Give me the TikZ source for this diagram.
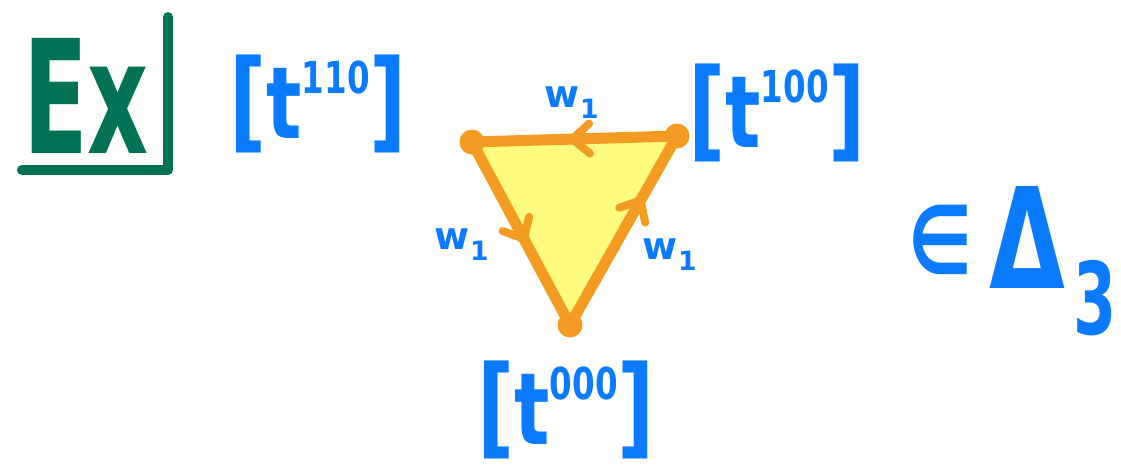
\documentclass[tikz,border=0pt]{standalone}
\usepackage{fontspec}
\setmainfont{DejaVu Sans}
\usetikzlibrary{decorations.markings,arrows.meta}
\definecolor{exgreen}{HTML}{007355}
\definecolor{inkblue}{HTML}{0A7BFF}
\definecolor{edgeorange}{HTML}{F49B22}
\definecolor{faceyellow}{HTML}{FFFB80}
\newcommand{\tlab}[1]{{\fontsize{110}{110}\selectfont[}t\raisebox{0.45em}{\fontsize{44}{44}\selectfont #1}{\fontsize{110}{110}\selectfont]}}
\tikzset{
  blue label/.style={text=inkblue, font=\bfseries\fontsize{100}{100}\selectfont, inner sep=0pt, xscale=0.74},
  w label/.style={text=inkblue, font=\bfseries\fontsize{38}{38}\selectfont, inner sep=0pt},
  edge line/.style={draw=edgeorange, line width=11pt, line cap=round, line join=round},
  vertex dot/.style={circle, fill=edgeorange, minimum size=25pt, inner sep=0pt},
  mid arrow/.style={postaction={decorate}, decoration={markings,
     mark=at position #1 with {\draw[edgeorange, line width=8pt, line cap=round, line join=round] (-15pt,15pt) -- (2pt,0pt) -- (-15pt,-15pt);}}},
}
\begin{document}
\begin{tikzpicture}[x=1pt,y=-1pt]
\useasboundingbox (0,0) rectangle (1121,475);
% Ex box
\node[text=exgreen, font=\bfseries\fontsize{158}{158}\selectfont, inner sep=0pt, xscale=0.6] (ex) at (86,96) {Ex};
\coordinate (boxtop) at (168,17);
\coordinate (boxcorner) at (168,170);
\coordinate (boxleft) at (22,170);
\draw[exgreen, line width=10pt, line cap=round, line join=round] (boxtop) -- (boxcorner) -- (boxleft);
% triangle
\coordinate (a) at (472,142);
\coordinate (b) at (677,136);
\coordinate (c) at (570,325);
\fill[faceyellow] (a) -- (b) -- (c) -- cycle;
\draw[edge line, mid arrow=0.5] (b) -- (a);
\draw[edge line, mid arrow=0.52] (a) -- (c);
\draw[edge line, mid arrow=0.65] (c) -- (b);
\node[vertex dot] (va) at (a) {};
\node[vertex dot] (vb) at (b) {};
\node[vertex dot] (vc) at (c) {};
% labels
\node[w label] (w1) at (572,103) {w\textsubscript{1}};
\node[w label] (w2) at (462,245) {w\textsubscript{1}};
\node[w label] (w3) at (670,255) {w\textsubscript{1}};
\node[blue label] (t110) at (318,104) {\tlab{110}};
\node[blue label] (t100) at (777,113) {\tlab{100}};
\node[blue label] (t000) at (566,410) {\tlab{000}};
\node[text=inkblue, font=\bfseries\fontsize{95}{95}\selectfont, inner sep=0pt, xscale=0.75] (elem) at (940,240) {∈};
\node[text=inkblue, font=\bfseries\fontsize{140}{140}\selectfont, inner sep=0pt, xscale=0.7] (delta) at (1027,237) {Δ};
\node[text=inkblue, font=\bfseries\fontsize{100}{100}\selectfont, inner sep=0pt, xscale=0.62] (three) at (1095,298) {3};
\end{tikzpicture}
\end{document}
